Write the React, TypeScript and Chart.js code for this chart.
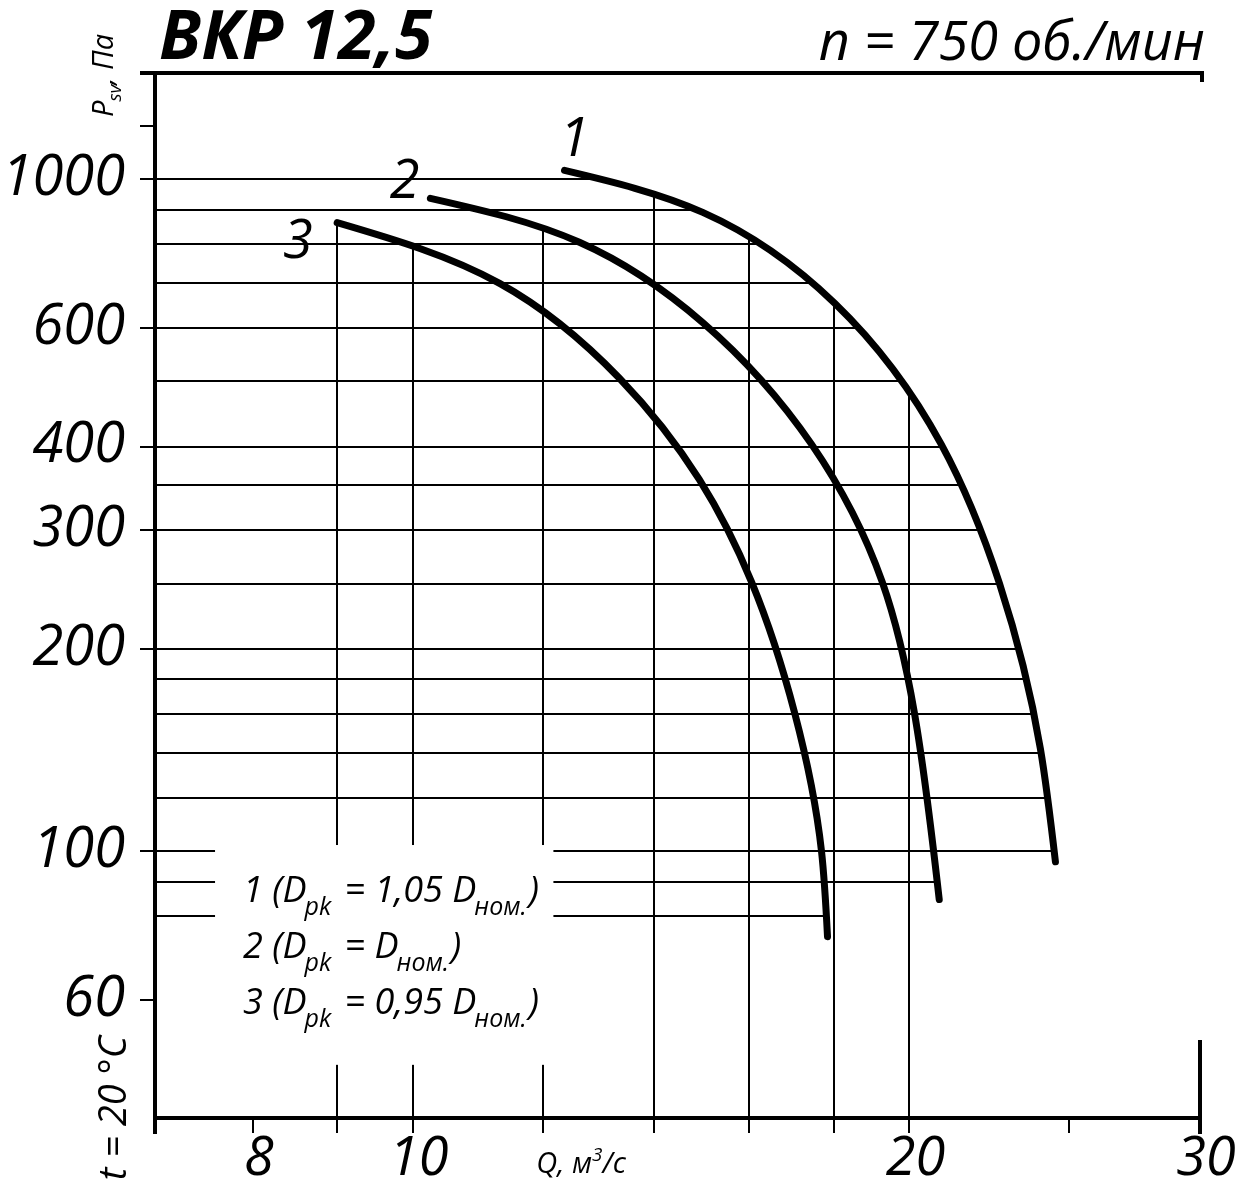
import React, { useEffect, useRef } from 'react';
import { Chart, registerables } from 'chart.js';

Chart.register(...registerables);

// ---- axis ranges (log-log) ----
const Q_MIN = 6.98;
const Q_MAX = 30;
const P_MIN = 40;
const P_MAX = 1440;

// ---- curve data: Q (m3/s) and Psv (Pa) ----
const curve1Q = [12.36, 14.99, 18.02, 20.91, 22.68, 24.01, 24.52];
const curve1P = [1031, 893, 654, 403, 250, 142, 96.3];

const curve2Q = [10.25, 12.62, 14.99, 17.45, 19.26, 20.14, 20.85];
const curve2P = [937, 806, 612, 403, 251, 160.5, 84.6];

const curve3Q = [9.0, 11.29, 13.34, 14.92, 16.05, 17.04, 17.69, 17.84];
const curve3P = [862, 700, 506, 357, 251, 160.5, 100, 74.5];

const curveNames = ['1', '2', '3'];
const curveLabelQ = [12.53, 9.89, 8.52];
const curveLabelP = [1143, 990, 806];

// ---- grid & ticks ----
const gridP = [1000, 900, 800, 700, 600, 500, 400, 350, 300, 250, 200, 180, 160, 140, 120, 100, 90, 80];
const gridQ = [9, 10, 12, 14, 16, 18, 20];
const tickQ = [8, 9, 10, 12, 14, 16, 18, 20, 25, 30];
const labelQ = [8, 10, 20, 30];
const labelQText = ['8', '10', '20', '30'];
const tickP = [1200, 1000, 600, 400, 300, 200, 100, 60];
const labelP = [1000, 600, 400, 300, 200, 100, 60];
const labelPText = ['1000', '600', '400', '300', '200', '100', '60'];

// ---- texts ----
const titleText = 'ВКР 12,5';
const speedText = 'n = 750 об./мин';
const xTitleMain = 'Q, м';
const xTitleSup = '3';
const xTitleEnd = '/с';
const yTitleMain = 'P';
const yTitleSub = 'sv';
const yTitleEnd = ', Па';
const tempText = 't = 20 °C';
const legendNums = ['1', '2', '3'];
const legendCoef = ['1,05 ', '', '0,95 '];

// legend box in data units (masks the grid)
const legendBoxQ = [7.59, 12.17];
const legendBoxP = [48, 102];

const FONT = '"Open Sans", "Noto Sans", "DejaVu Sans", sans-serif';

type Pt = { x: number; y: number };

function xAtY(c: Pt[], py: number): number | null {
  const n = c.length;
  if (py < c[0].y - 0.5 || py > c[n - 1].y + 0.5) return null;
  if (py <= c[0].y) return c[0].x;
  for (let i = 0; i < n - 1; i++) {
    const a = c[i], b = c[i + 1];
    if ((py >= a.y && py <= b.y) || (py <= a.y && py >= b.y)) {
      const t = (py - a.y) / (b.y - a.y || 1);
      return a.x + t * (b.x - a.x);
    }
  }
  return c[n - 1].x;
}

function yAtX(c: Pt[], px: number): number | null {
  const n = c.length;
  if (px < c[0].x - 0.6 || px > c[n - 1].x + 0.6) return null;
  if (px <= c[0].x) return c[0].y;
  let best = Infinity;
  for (let i = 0; i < n - 1; i++) {
    const a = c[i], b = c[i + 1];
    if ((px >= a.x && px <= b.x) || (px <= a.x && px >= b.x)) {
      const t = (px - a.x) / (b.x - a.x || 1);
      best = Math.min(best, a.y + t * (b.y - a.y));
    }
  }
  return isFinite(best) ? best : c[n - 1].y;
}

// Natural (C2) cubic spline through the plotted points, written into the
// bezier control points that Chart.js uses when it strokes the line.
function solveTri(a: number[], b: number[], c: number[], d: number[]): number[] {
  const n = d.length;
  const cp = new Array(n).fill(0);
  const dp = new Array(n).fill(0);
  for (let i = 0; i < n; i++) {
    const m = b[i] - (i > 0 ? a[i] * cp[i - 1] : 0);
    cp[i] = c[i] / m;
    dp[i] = (d[i] - (i > 0 ? a[i] * dp[i - 1] : 0)) / m;
  }
  const x = new Array(n).fill(0);
  for (let i = n - 1; i >= 0; i--) x[i] = dp[i] - (i < n - 1 ? cp[i] * x[i + 1] : 0);
  return x;
}

function smoothControlPoints(pts: any[]) {
  const n = pts.length;
  if (n < 3) return;
  const h: number[] = [];
  for (let i = 0; i < n - 1; i++) h.push(Math.hypot(pts[i + 1].x - pts[i].x, pts[i + 1].y - pts[i].y) || 1);
  const secondDeriv = (key: 'x' | 'y') => {
    const a: number[] = [], b: number[] = [], c: number[] = [], d: number[] = [];
    for (let i = 1; i < n - 1; i++) {
      a.push(h[i - 1]);
      b.push(2 * (h[i - 1] + h[i]));
      c.push(h[i]);
      d.push(6 * ((pts[i + 1][key] - pts[i][key]) / h[i] - (pts[i][key] - pts[i - 1][key]) / h[i - 1]));
    }
    const inner = solveTri(a, b, c, d);
    return [0, ...inner, 0];
  };
  const Mx = secondDeriv('x');
  const My = secondDeriv('y');
  for (let i = 0; i < n - 1; i++) {
    const p0 = pts[i], p1 = pts[i + 1], hi = h[i];
    const d0x = (p1.x - p0.x) / hi - (hi * (2 * Mx[i] + Mx[i + 1])) / 6;
    const d0y = (p1.y - p0.y) / hi - (hi * (2 * My[i] + My[i + 1])) / 6;
    const d1x = (p1.x - p0.x) / hi + (hi * (Mx[i] + 2 * Mx[i + 1])) / 6;
    const d1y = (p1.y - p0.y) / hi + (hi * (My[i] + 2 * My[i + 1])) / 6;
    p0.cp2x = p0.x + (d0x * hi) / 3;
    p0.cp2y = p0.y + (d0y * hi) / 3;
    p1.cp1x = p1.x - (d1x * hi) / 3;
    p1.cp1y = p1.y - (d1y * hi) / 3;
  }
  pts[0].cp1x = pts[0].x;
  pts[0].cp1y = pts[0].y;
  pts[n - 1].cp2x = pts[n - 1].x;
  pts[n - 1].cp2y = pts[n - 1].y;
}

function sampledCurve(chart: any, i: number): Pt[] {
  const meta = chart.getDatasetMeta(i);
  const line = meta.dataset;
  if (line && typeof line.updateControlPoints === 'function') {
    line.updateControlPoints(chart.chartArea, meta.indexAxis || 'x');
  }
  const pts: any[] = meta.data;
  smoothControlPoints(pts);
  if (line) line._path = undefined;
  const out: Pt[] = [];
  for (let k = 0; k < pts.length; k++) {
    const p = pts[k];
    if (k === 0) {
      out.push({ x: p.x, y: p.y });
      continue;
    }
    const q = pts[k - 1];
    const c1x = q.cp2x ?? q.x, c1y = q.cp2y ?? q.y;
    const c2x = p.cp1x ?? p.x, c2y = p.cp1y ?? p.y;
    const N = 40;
    for (let s = 1; s <= N; s++) {
      const t = s / N, u = 1 - t;
      const x = u * u * u * q.x + 3 * u * u * t * c1x + 3 * u * t * t * c2x + t * t * t * p.x;
      const y = u * u * u * q.y + 3 * u * u * t * c1y + 3 * u * t * t * c2y + t * t * t * p.y;
      out.push({ x, y });
    }
  }
  return out;
}

function seg(ctx: CanvasRenderingContext2D, x1: number, y1: number, x2: number, y2: number) {
  ctx.beginPath();
  ctx.moveTo(x1, y1);
  ctx.lineTo(x2, y2);
  ctx.stroke();
}

const fanPlugin = {
  id: 'fanPlugin',
  beforeDraw(chart: any) {
    const ctx = chart.ctx;
    ctx.save();
    ctx.fillStyle = '#fff';
    ctx.fillRect(0, 0, chart.width, chart.height);
    ctx.restore();
  },
  beforeDatasetsDraw(chart: any) {
    const { ctx, chartArea: a } = chart;
    const xs = chart.scales.x;
    const ys = chart.scales.y;
    const curves: Pt[][] = chart.data.datasets.map((_: any, i: number) => sampledCurve(chart, i));
    ctx.save();
    ctx.strokeStyle = '#000';
    ctx.lineWidth = 2;
    ctx.lineCap = 'butt';
    for (const v of gridP) {
      const py = Math.round(ys.getPixelForValue(v));
      let xr = -Infinity;
      for (const c of curves) {
        const xx = xAtY(c, py);
        if (xx !== null) xr = Math.max(xr, xx);
      }
      if (!isFinite(xr)) continue;
      seg(ctx, a.left, py, xr, py);
    }
    for (const v of gridQ) {
      const px = Math.round(xs.getPixelForValue(v));
      let yt = Infinity;
      for (const c of curves) {
        const yy = yAtX(c, px);
        if (yy !== null) yt = Math.min(yt, yy);
      }
      if (!isFinite(yt)) continue;
      seg(ctx, px, yt, px, a.bottom);
    }
    // legend mask
    const lx0 = xs.getPixelForValue(legendBoxQ[0]);
    const lx1 = xs.getPixelForValue(legendBoxQ[1]);
    const ly0 = ys.getPixelForValue(legendBoxP[1]);
    const ly1 = ys.getPixelForValue(legendBoxP[0]);
    ctx.fillStyle = '#fff';
    ctx.fillRect(lx0, ly0, lx1 - lx0, ly1 - ly0);

    // legend text
    ctx.fillStyle = '#000';
    ctx.textBaseline = 'alphabetic';
    ctx.textAlign = 'left';
    const mainFont = `italic 36px ${FONT}`;
    const subFont = `italic 25px ${FONT}`;
    const baseX = lx0 + 28;
    const baseY0 = ly0 + 57;
    for (let i = 0; i < legendNums.length; i++) {
      let cx = baseX;
      const by = baseY0 + i * 56;
      ctx.font = mainFont;
      const s1 = `${legendNums[i]} (D`;
      ctx.fillText(s1, cx, by);
      cx += ctx.measureText(s1).width;
      ctx.font = subFont;
      ctx.fillText('pk', cx - 2, by + 13);
      cx += ctx.measureText('pk').width + 2;
      ctx.font = mainFont;
      const s2 = ` = ${legendCoef[i]}D`;
      ctx.fillText(s2, cx, by);
      cx += ctx.measureText(s2).width;
      ctx.font = subFont;
      ctx.fillText('ном.', cx - 2, by + 13);
      cx += ctx.measureText('ном.').width;
      ctx.font = mainFont;
      ctx.fillText(')', cx, by);
    }
    ctx.restore();
  },
  afterDatasetsDraw(chart: any) {
    const { ctx, chartArea: a } = chart;
    const xs = chart.scales.x;
    const ys = chart.scales.y;
    ctx.save();
    ctx.strokeStyle = '#000';
    ctx.fillStyle = '#000';
    ctx.lineCap = 'butt';

    // frame
    ctx.lineWidth = 4;
    seg(ctx, a.left - 15, a.top, a.right + 4, a.top);
    seg(ctx, a.left, a.top - 2, a.left, a.bottom + 16);
    seg(ctx, a.left, a.bottom, a.right + 2, a.bottom);
    seg(ctx, a.right + 2, a.top - 2, a.right + 2, a.top + 9);
    seg(ctx, a.right, a.bottom - 78, a.right, a.bottom + 16);

    // ticks
    ctx.lineWidth = 2;
    for (const v of tickP) {
      const py = Math.round(ys.getPixelForValue(v));
      seg(ctx, a.left - 15, py, a.left, py);
    }
    for (const v of tickQ) {
      const px = Math.round(xs.getPixelForValue(v));
      seg(ctx, px, a.bottom, px, a.bottom + 15);
    }

    // y labels
    ctx.font = `italic 56px ${FONT}`;
    ctx.textAlign = 'right';
    ctx.textBaseline = 'middle';
    for (let i = 0; i < labelP.length; i++) {
      ctx.fillText(labelPText[i], a.left - 30, ys.getPixelForValue(labelP[i]));
    }
    // x labels
    ctx.font = `italic 54px ${FONT}`;
    ctx.textAlign = 'center';
    ctx.textBaseline = 'alphabetic';
    for (let i = 0; i < labelQ.length; i++) {
      ctx.fillText(labelQText[i], xs.getPixelForValue(labelQ[i]) + 6, a.bottom + 57);
    }
    // x title
    ctx.textAlign = 'left';
    let tx = xs.getPixelForValue(12) - 7;
    const tY = a.bottom + 55;
    ctx.font = `italic 29px ${FONT}`;
    ctx.fillText(xTitleMain, tx, tY);
    tx += ctx.measureText(xTitleMain).width;
    ctx.font = `italic 19px ${FONT}`;
    ctx.fillText(xTitleSup, tx, tY - 12);
    tx += ctx.measureText(xTitleSup).width;
    ctx.font = `italic 29px ${FONT}`;
    ctx.fillText(xTitleEnd, tx, tY);

    // y title (rotated)
    ctx.save();
    ctx.translate(a.left - 42, a.top + 44);
    ctx.rotate(-Math.PI / 2);
    ctx.textAlign = 'left';
    ctx.textBaseline = 'alphabetic';
    let yx = 0;
    ctx.font = `italic 29px ${FONT}`;
    ctx.fillText(yTitleMain, yx, 0);
    yx += ctx.measureText(yTitleMain).width;
    ctx.font = `italic 19px ${FONT}`;
    ctx.fillText(yTitleSub, yx - 1, 8);
    yx += ctx.measureText(yTitleSub).width - 1;
    ctx.font = `italic 29px ${FONT}`;
    ctx.fillText(yTitleEnd, yx, 0);
    ctx.restore();

    // temperature (rotated)
    ctx.save();
    ctx.translate(a.left - 29, a.bottom - 10);
    ctx.rotate(-Math.PI / 2);
    ctx.font = `italic 38px ${FONT}`;
    ctx.textAlign = 'center';
    ctx.textBaseline = 'alphabetic';
    ctx.fillText(tempText, 0, 0);
    ctx.restore();

    // title
    ctx.font = `italic bold 68px ${FONT}`;
    ctx.textAlign = 'left';
    ctx.textBaseline = 'alphabetic';
    ctx.fillText(titleText, a.left + 4, a.top - 14);
    ctx.font = `italic 54px ${FONT}`;
    ctx.textAlign = 'right';
    ctx.fillText(speedText, a.right + 5, a.top - 13);

    // curve labels
    ctx.font = `italic 54px ${FONT}`;
    ctx.textAlign = 'center';
    ctx.textBaseline = 'middle';
    for (let i = 0; i < curveNames.length; i++) {
      ctx.fillText(curveNames[i], xs.getPixelForValue(curveLabelQ[i]), ys.getPixelForValue(curveLabelP[i]));
    }
    ctx.restore();
  },
};

function toPoints(q: number[], p: number[]) {
  return q.map((v, i) => ({ x: v, y: p[i] }));
}

export default function App() {
  const ref = useRef<HTMLCanvasElement | null>(null);
  useEffect(() => {
    if (!ref.current) return;
    const lineStyle = {
      borderColor: '#000',
      borderWidth: 7,
      pointRadius: 0,
      fill: false,
      tension: 0.4,
      borderCapStyle: 'round' as const,
      borderJoinStyle: 'round' as const,
    };
    const chart = new Chart(ref.current, {
      type: 'line',
      data: {
        datasets: [
          { label: '1', data: toPoints(curve1Q, curve1P), ...lineStyle },
          { label: '2', data: toPoints(curve2Q, curve2P), ...lineStyle },
          { label: '3', data: toPoints(curve3Q, curve3P), ...lineStyle },
        ],
      },
      options: {
        responsive: false,
        maintainAspectRatio: false,
        animation: false,
        events: [],
        layout: { padding: { left: 155, top: 73, right: 50, bottom: 72 } },
        plugins: { legend: { display: false }, tooltip: { enabled: false } },
        scales: {
          x: { type: 'logarithmic', min: Q_MIN, max: Q_MAX, display: false },
          y: { type: 'logarithmic', min: P_MIN, max: P_MAX, display: false },
        },
      },
      plugins: [fanPlugin],
    });
    return () => chart.destroy();
  }, []);
  return (
    <div style={{ position: 'absolute', left: 0, top: 0, width: 1250, height: 1190, background: '#fff' }}>
      <canvas ref={ref} width={1250} height={1190} style={{ display: 'block' }} />
    </div>
  );
}
